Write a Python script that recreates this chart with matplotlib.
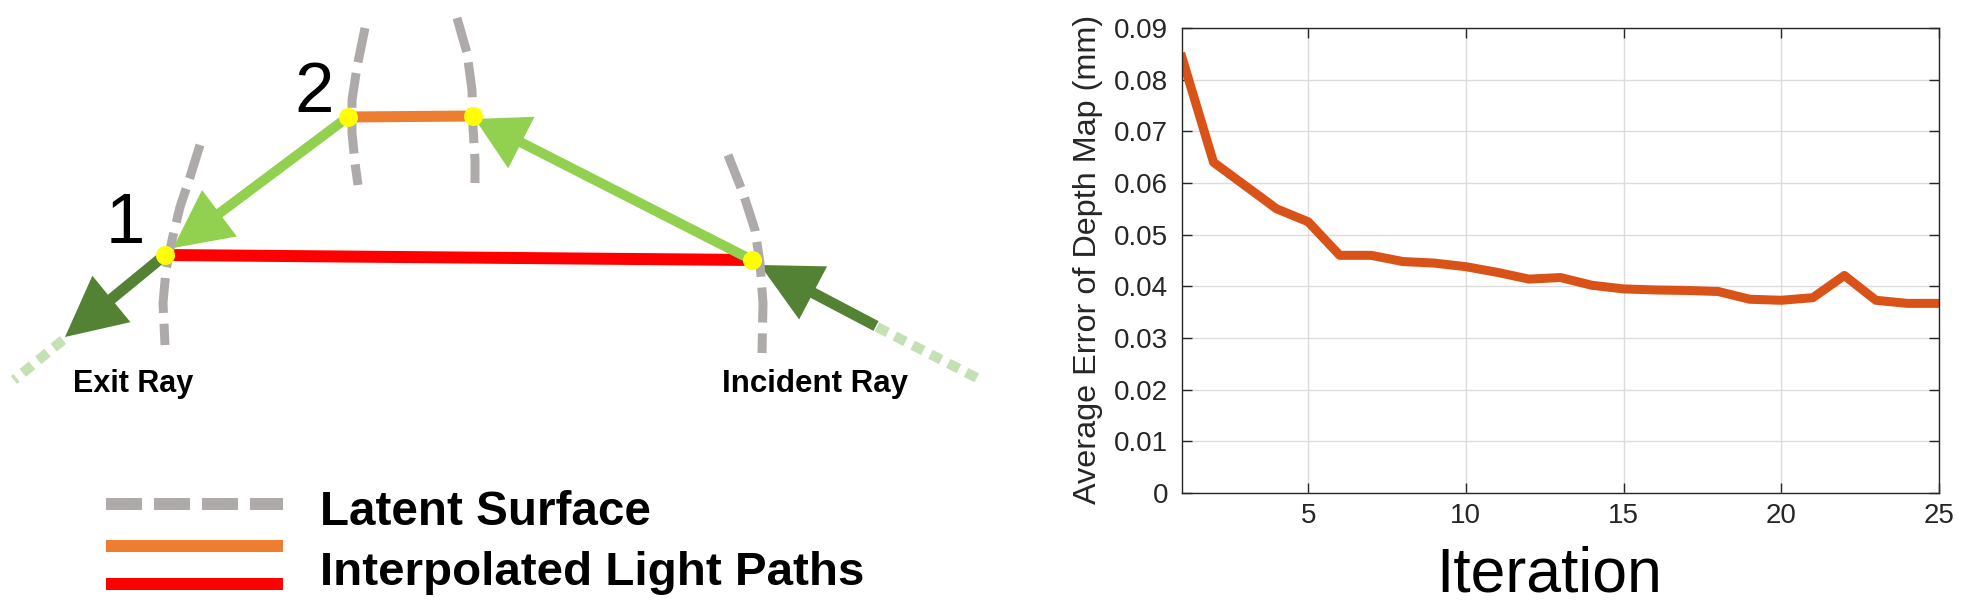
import numpy as np
import matplotlib.pyplot as plt
from matplotlib.patches import FancyArrow

plt.rcParams['font.family'] = ['Liberation Sans', 'DejaVu Sans']

# right panel data
iteration = np.arange(1, 26)
avg_error = [0.0843, 0.0640, 0.0595, 0.0550, 0.0525, 0.0460, 0.0460, 0.0448,
             0.0445, 0.0438, 0.0427, 0.0414, 0.0417, 0.0402, 0.0395, 0.0393,
             0.0392, 0.0390, 0.0375, 0.0373, 0.0378, 0.0421, 0.0373, 0.0367,
             0.0367]
xticks = [5, 10, 15, 20, 25]
yticks = [0, 0.01, 0.02, 0.03, 0.04, 0.05, 0.06, 0.07, 0.08, 0.09]
ytick_labels = ['0', '0.01', '0.02', '0.03', '0.04', '0.05', '0.06', '0.07', '0.08', '0.09']

# left panel: schematic, in pixel units of the left part
p1 = (165, 255)
p2a = (348, 117)
p2b = (473, 116)
p_in = (752, 260)
arcs = [
    [(200, 145), (190, 177), (180, 207), (172, 240), (166, 270), (163, 303), (165, 345)],
    [(365, 28), (357, 67), (352, 100), (352, 133), (355, 163), (358, 185)],
    [(457, 18), (467, 53), (472, 90), (473, 127), (475, 160), (475, 183)],
    [(728, 155), (743, 193), (755, 230), (760, 263), (763, 303), (762, 353)],
]
# (tail, tip, colour, shaft width, head width, head length)
arrows = [
    (p2a, (173, 248), '#92D050', 10, 58, 58),
    (p_in, (475, 119), '#92D050', 10, 58, 52),
    ((876, 326), (760, 265), '#548235', 11, 60, 60),
    (p1, (65, 337), '#548235', 11, 60, 60),
]
faded_rays = [((877, 327), (983, 381)), ((63, 340), (14, 380))]

PX = 0.72  # points per pixel at dpi 100

fig = plt.figure(figsize=(19.73, 6.11), dpi=100)

ax0 = fig.add_axes([0, 0, 1000 / 1973, 1])
ax0.set_xlim(0, 1000)
ax0.set_ylim(611, 0)
ax0.axis('off')

for a, b in faded_rays:
    ax0.plot([a[0], b[0]], [a[1], b[1]], color='#C5E0B4', lw=10 * PX,
             dashes=(1.2, 0.8), zorder=1)

ax0.plot([p1[0], p_in[0]], [p1[1], p_in[1]], color='#FF0000', lw=12 * PX,
         solid_capstyle='butt', zorder=2)
ax0.plot([p2a[0], p2b[0]], [p2a[1], p2b[1]], color='#ED7D31', lw=11 * PX,
         solid_capstyle='butt', zorder=2)

for tail, tip, c, w, hw, hl in arrows:
    ax0.add_patch(FancyArrow(tail[0], tail[1], tip[0] - tail[0], tip[1] - tail[1],
                             width=w, head_width=hw, head_length=hl,
                             length_includes_head=True, color=c, lw=0, zorder=3))

for arc in arcs:
    xs, ys = zip(*arc)
    ax0.plot(xs, ys, color='#AEAAAA', lw=9 * PX, dashes=(3.9, 1.2), zorder=4)

for pt in [p1, p2a, p2b, p_in]:
    ax0.plot(pt[0], pt[1], 'o', color='#FFFF00', ms=19 * PX, mew=0, zorder=5)

ax0.text(125, 243, '1', fontsize=51, ha='center', va='baseline')
ax0.text(314, 112, '2', fontsize=51, ha='center', va='baseline')
ax0.text(133, 392, 'Exit Ray', fontsize=22, fontweight='bold', ha='center', va='baseline')
ax0.text(815, 392, 'Incident Ray', fontsize=22.5, fontweight='bold', ha='center', va='baseline')

# legend
ax0.plot([106, 283], [504, 504], color='#AEAAAA', lw=12 * PX, dashes=(3, 1))
ax0.plot([106, 283], [546, 546], color='#ED7D31', lw=12 * PX, solid_capstyle='butt')
ax0.plot([106, 283], [584, 584], color='#FF0000', lw=12 * PX, solid_capstyle='butt')
ax0.text(320, 525, 'Latent Surface', fontsize=34.3, fontweight='bold', va='baseline')
ax0.text(320, 585, 'Interpolated Light Paths', fontsize=34.2, fontweight='bold', va='baseline')

# right panel
ax = fig.add_axes([1182 / 1973, (611 - 493) / 611, 757 / 1973, 465 / 611])
ax.plot(iteration, avg_error, color='#D95319', lw=6.5)
ax.set_xlim(1, 25)
ax.set_ylim(0, 0.09)
ax.set_xticks(xticks)
ax.set_yticks(yticks)
ax.set_yticklabels(ytick_labels)
ax.grid(True, color='#DCDCDC', lw=1)
ax.set_axisbelow(True)
ax.tick_params(direction='in', top=True, right=True, length=7, width=1,
               colors='#262626', labelsize=20)
ax.tick_params(axis='y', pad=10)
ax.tick_params(axis='x', pad=7)
for s in ax.spines.values():
    s.set_color('#262626')
    s.set_linewidth(1)

fig.text(1088 / 1973, 1 - 259 / 611, 'Average Error of Depth Map (mm)', rotation=90,
         fontsize=23.3, color='#262626', ha='center', va='center')
fig.text(1549 / 1973, (611 - 591) / 611, 'Iteration', fontsize=45,
         ha='center', va='baseline')

fig.savefig('out.png', dpi=100)
